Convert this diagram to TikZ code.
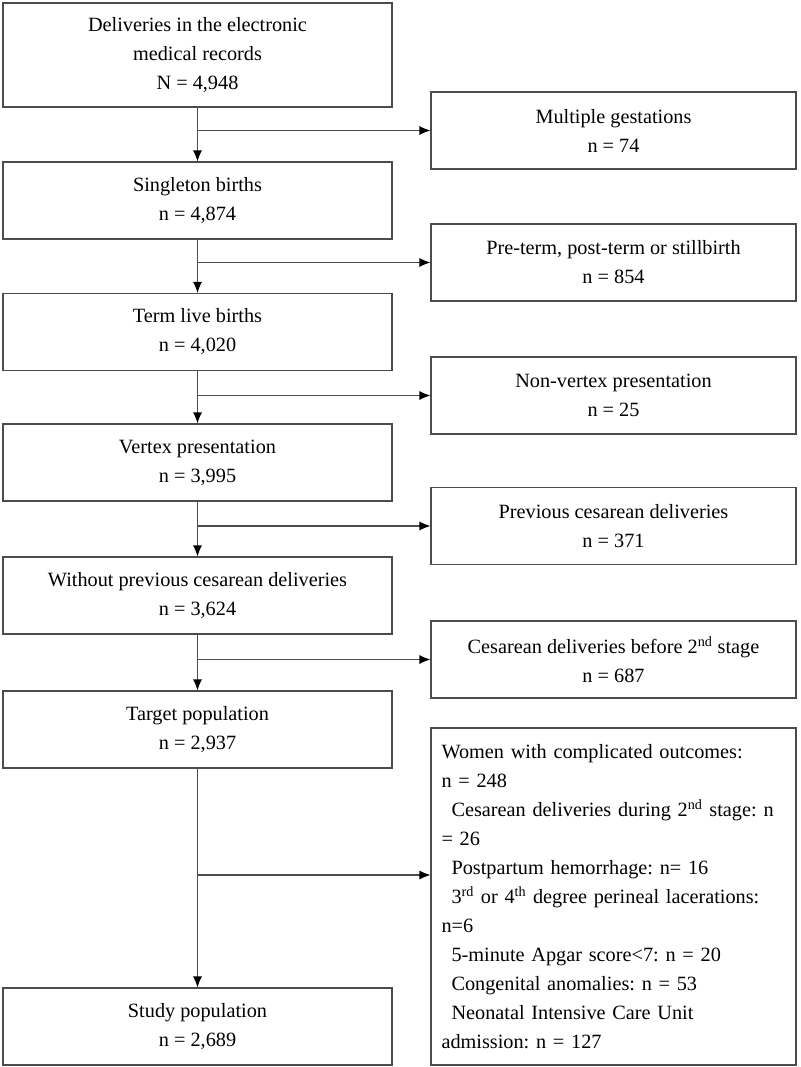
\documentclass[tikz,border=0pt]{standalone}
\usepackage{fontspec}
\setmainfont{Liberation Serif}
\usetikzlibrary{arrows.meta}
\tikzset{
  flowbox/.style={draw=black!70, line width=0.8pt, align=center, inner sep=0pt,
    font=\fontsize{15.2pt}{21.75pt}\selectfont\frenchspacing},
  leftbox/.style={flowbox, minimum width=291.75pt, minimum height=57.75pt},
  rightbox/.style={flowbox, minimum width=273.75pt, minimum height=57.75pt},
  arr/.style={draw=black!70, line width=0.8pt, -{Latex[length=8.25pt,width=6.75pt,color=black]}}
}
\begin{document}
\begin{tikzpicture}[x=0.75pt,y=0.75pt,yscale=-1,xscale=1]
\useasboundingbox (0,0) rectangle (800,1067);

%Left column
\node[leftbox, minimum height=78pt] (rec) at (197.5,55) {Deliveries in the electronic\\medical records\\N = 4,948};
\node[leftbox] (sing) at (197.5,200.5) {Singleton births\\n = 4,874};
\node[leftbox] (term) at (197.5,332) {Term live births\\n = 4,020};
\node[leftbox] (vert) at (197.5,462.5) {Vertex presentation\\n = 3,995};
\node[leftbox] (noprev) at (197.5,595.5) {Without previous cesarean deliveries\\n = 3,624};
\node[leftbox] (target) at (197.5,729.5) {Target population\\n = 2,937};
\node[leftbox] (study) at (197.5,1026.5) {Study population\\n = 2,689};

%Right column
\node[rightbox] (mult) at (613.5,130.5) {Multiple gestations\\n = 74};
\node[rightbox] (preterm) at (613.5,262.5) {Pre-term, post-term or stillbirth\\n = 854};
\node[rightbox] (nonvert) at (613.5,395.5) {Non-vertex presentation\\n = 25};
\node[rightbox] (prevces) at (613.5,526) {Previous cesarean deliveries\\n = 371};
\node[rightbox] (cesbef) at (613.5,659.5) {Cesarean deliveries before 2\textsuperscript{nd} stage\\n = 687};
\node[rightbox, minimum height=252.75pt, align=left, text width=258pt] (compl) at (613.5,896.5) {Women with complicated outcomes:\\
n = 248\\
\hspace*{7.5pt}Cesarean deliveries during 2\textsuperscript{nd} stage: n\\
= 26\\
\hspace*{7.5pt}Postpartum hemorrhage: n= 16\\
\hspace*{7.5pt}3\textsuperscript{rd} or 4\textsuperscript{th} degree perineal lacerations:\\
n=6\\
\hspace*{7.5pt}5-minute Apgar score<7: n = 20\\
\hspace*{7.5pt}Congenital anomalies: n = 53\\
\hspace*{7.5pt}Neonatal Intensive Care Unit\\
admission: n = 127};

%Straight arrows down
\draw[arr] (rec) -- (sing);
\draw[arr] (sing) -- (term);
\draw[arr] (term) -- (vert);
\draw[arr] (vert) -- (noprev);
\draw[arr] (noprev) -- (target);
\draw[arr] (target) -- (study);

%Arrows to the right
\draw[arr] (rec.south |- mult.west) -- (mult.west);
\draw[arr] (sing.south |- preterm.west) -- (preterm.west);
\draw[arr] (term.south |- nonvert.west) -- (nonvert.west);
\draw[arr] (vert.south |- prevces.west) -- (prevces.west);
\draw[arr] (noprev.south |- cesbef.west) -- (cesbef.west);
\coordinate (split) at (197.5,875);
\draw[arr] (split) -- (split -| compl.west);

\end{tikzpicture}
\end{document}
